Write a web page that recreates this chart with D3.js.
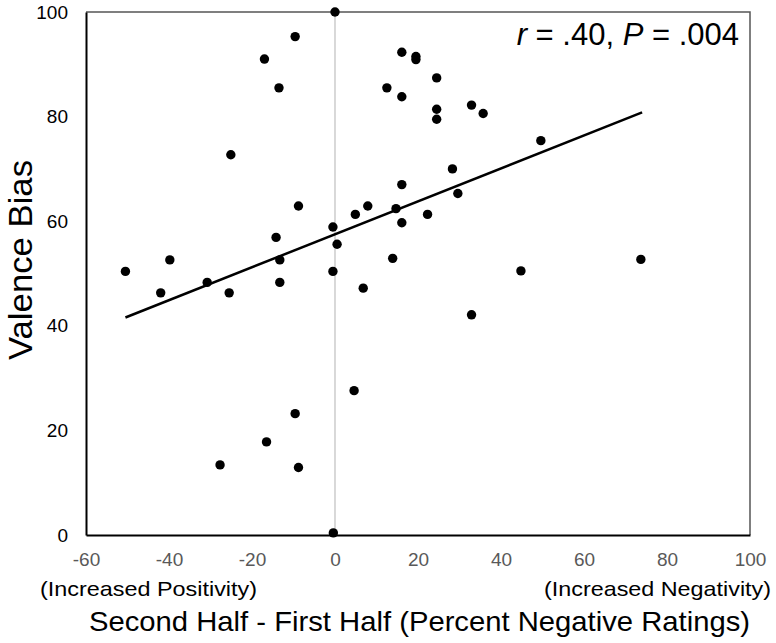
<!DOCTYPE html>
<html><head><meta charset="utf-8">
<script src="https://cdn.jsdelivr.net/npm/d3@7"></script>
<style>body{margin:0;background:#fff}svg{display:block}text{font-family:"Liberation Sans",Arial,sans-serif}</style>
</head><body>
<script>
const xValues = [0,-9.6,-17,-13.5,-25.1,-8.8,4.9,7.9,12.5,16.1,-0.5,-14.2,0.5,-50.5,-39.8,-42,-30.8,-25.5,-13.3,-13.3,-0.5,6.8,13.9,14.7,16.1,16.1,16.1,19.5,19.5,24.5,24.5,24.5,32.9,35.7,49.6,28.3,29.6,22.3,44.8,73.7,32.9,4.6,-9.6,-16.5,-27.7,-8.8,-0.4];
const yValues = [100,95.3,91,85.5,72.7,62.9,61.3,62.9,85.5,92.3,58.9,56.9,55.6,50.4,52.6,46.3,48.3,46.3,52.6,48.3,50.4,47.2,52.9,62.4,59.7,67.0,83.8,91.5,90.9,87.4,81.4,79.5,82.2,80.6,75.4,70.0,65.3,61.3,50.5,52.7,42.1,27.6,23.2,17.8,13.4,12.9,0.4];
const xTicks = [-60,-40,-20,0,20,40,60,80,100];
const yTicks = [0,20,40,60,80,100];
const trendIntercept = 57.5, trendSlope = 0.315;
const trendRange = [-50.5, 74];
const statText = ["r", " = .40, ", "P", " = .004"];

const W = 776, H = 643;
const m = {left: 86, right: 26, top: 12, bottom: 108};
const svg = d3.select("body").append("svg").attr("width", W).attr("height", H);
const x = d3.scaleLinear().domain([-60, 100]).range([m.left, W - m.right]);
const y = d3.scaleLinear().domain([0, 100]).range([H - m.bottom, m.top]);

// zero reference line
svg.append("line").attr("x1", x(0)).attr("x2", x(0)).attr("y1", y(0)).attr("y2", y(100))
  .attr("stroke", "#bfbfbf").attr("stroke-width", 1.2);

// frame top/right
svg.append("path").attr("d", `M${x(-60)},${y(100)}H${x(100)}V${y(0)}`)
  .attr("fill", "none").attr("stroke", "#555").attr("stroke-width", 1.5);

// axes
const yAxis = svg.append("g").attr("transform", `translate(${x(-60)},0)`)
  .call(d3.axisLeft(y).tickValues(yTicks).tickSize(0).tickPadding(18).tickFormat(d => String(d)));
yAxis.select(".domain").attr("stroke", "#000").attr("stroke-width", 2);
yAxis.selectAll("text").attr("font-size", 19).attr("fill", "#000").attr("font-family", "Liberation Sans, Arial, sans-serif");

const xAxis = svg.append("g").attr("transform", `translate(0,${y(0)})`)
  .call(d3.axisBottom(x).tickValues(xTicks).tickSize(0).tickPadding(18).tickFormat(d => String(d)));
xAxis.select(".domain").attr("stroke", "#000").attr("stroke-width", 2);
xAxis.selectAll("text").attr("font-size", 19).attr("fill", "#595959").attr("font-family", "Liberation Sans, Arial, sans-serif");

// trend line
svg.append("line")
  .attr("x1", x(trendRange[0])).attr("y1", y(trendIntercept + trendSlope * trendRange[0]))
  .attr("x2", x(trendRange[1])).attr("y2", y(trendIntercept + trendSlope * trendRange[1]))
  .attr("stroke", "#000").attr("stroke-width", 2.5);

// points
svg.append("g").selectAll("circle").data(xValues.map((v, i) => [v, yValues[i]])).join("circle")
  .attr("cx", d => x(d[0])).attr("cy", d => y(d[1])).attr("r", 4.7).attr("fill", "#000");

// stat annotation
const st = svg.append("text").attr("x", 739).attr("y", 45).attr("text-anchor", "end")
  .attr("font-size", 31).attr("fill", "#000");
statText.forEach((t, i) => st.append("tspan").text(t).attr("font-style", (i % 2 === 0) ? "italic" : "normal"));

// axis labels
svg.append("text").attr("transform", `translate(32,260) rotate(-90)`)
  .attr("text-anchor", "middle").attr("font-size", 33).attr("textLength", 200).attr("lengthAdjust", "spacingAndGlyphs")
  .text("Valence Bias");
svg.append("text").attr("x", 40).attr("y", 596).attr("font-size", 21)
  .attr("textLength", 217).attr("lengthAdjust", "spacingAndGlyphs").text("(Increased Positivity)");
svg.append("text").attr("x", 544).attr("y", 596).attr("font-size", 21)
  .attr("textLength", 227).attr("lengthAdjust", "spacingAndGlyphs").text("(Increased Negativity)");
svg.append("text").attr("x", 89).attr("y", 631).attr("font-size", 28)
  .attr("textLength", 661).attr("lengthAdjust", "spacingAndGlyphs")
  .text("Second Half - First Half (Percent Negative Ratings)");
</script>
</body></html>
